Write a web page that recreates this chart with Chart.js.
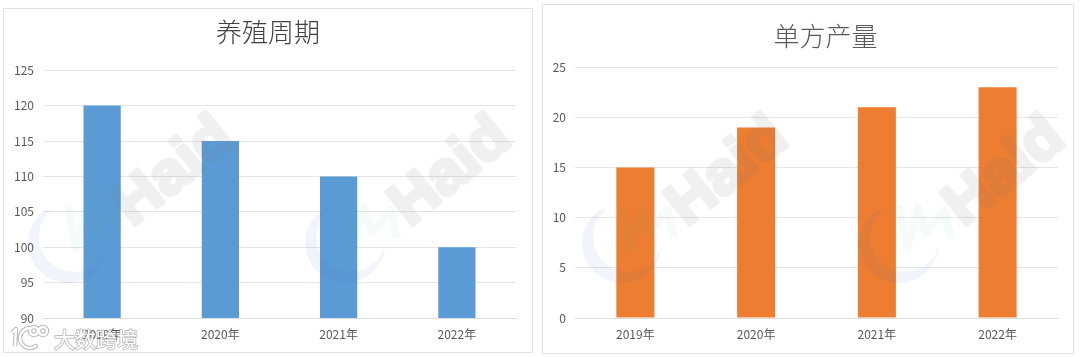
<!DOCTYPE html>
<html>
<head>
<meta charset="utf-8">
<script src="https://cdn.jsdelivr.net/npm/chart.js@4"></script>
<style>
html, body { margin: 0; padding: 0; background: #fff; }
body { width: 1080px; height: 357px; position: relative; overflow: hidden; }
.panel { position: absolute; border: 1px solid #e2e2e2; box-sizing: content-box; }
#leftPanel { left: 3px; top: 8px; width: 528px; height: 343px; }
#rightPanel { left: 542px; top: 4px; width: 530px; height: 348px; }
canvas { display: block; }
</style>
</head>
<body>
<div class="panel" id="leftPanel"><canvas id="cycleChart" width="528" height="343"></canvas></div>
<div class="panel" id="rightPanel"><canvas id="yieldChart" width="530" height="348"></canvas></div>
<script>
var years = ['2019年', '2020年', '2021年', '2022年'];
var cycleDays = [120, 115, 110, 100];
var yieldPerCube = [15, 19, 21, 23];
var watermarkX = [68, 345, 622, 899];

var fontName = '"Noto Sans CJK SC", "Noto Sans", sans-serif';

// heavy Haid word, drawn opaque once so fill and outline do not double up
var haidWord = document.createElement('canvas');
haidWord.width = 200;
haidWord.height = 100;
var hw = haidWord.getContext('2d');
hw.font = 'bold 62px "Liberation Sans", sans-serif';
hw.textAlign = 'center';
hw.textBaseline = 'middle';
hw.fillStyle = '#6e6e6e';
hw.strokeStyle = '#6e6e6e';
hw.lineWidth = 4;
hw.lineJoin = 'round';
hw.fillText('Haid', 100, 50);
hw.strokeText('Haid', 100, 50);

// haid watermark, repeated across the whole picture in page coordinates
var watermark = {
    id: 'watermark',
    afterLayout: function (chart, args, opts) {
        // titles in the reference sit right of the plot centre
        chart.titleBlock.left += opts.titleShift;
        chart.titleBlock.right += opts.titleShift;
    },
    afterDraw: function (chart, args, opts) {
        var c = chart.ctx;
        c.save();
        c.translate(-opts.pageX, -opts.pageY);
        watermarkX.forEach(function (x) {
            var y = 243;
            c.fillStyle = 'rgba(60,95,190,.07)';
            c.beginPath();
            c.arc(x, y, 40, 1.3 * Math.PI, 0, true);
            c.arc(x + 6, y - 6, 35, 0, 1.3 * Math.PI, false);
            c.closePath();
            c.fill();

            c.strokeStyle = 'rgba(70,190,130,.06)';
            c.lineWidth = 8;
            c.lineJoin = 'round';
            c.beginPath();
            c.moveTo(x, y - 38);
            c.lineTo(x + 8, y + 6);
            c.lineTo(x + 19, y - 36);
            c.lineTo(x + 27, y - 10);
            c.lineTo(x + 45, y - 33);
            c.lineTo(x + 52, y - 5);
            c.stroke();

            c.save();
            c.translate(x + 106, y - 71);
            c.rotate(-39 * Math.PI / 180);
            c.globalAlpha = 0.11;
            c.drawImage(haidWord, -100, -50);
            c.restore();
        });
        c.restore();
    }
};

// the white source stamp in the bottom left corner
var stamp = {
    id: 'stamp',
    afterDraw: function (chart) {
        var c = chart.ctx;
        c.save();
        c.translate(-4, -9);
        c.lineJoin = 'round';

        function logoPath() {
            c.beginPath();
            c.moveTo(12, 333);
            c.lineTo(16, 329);
            c.lineTo(15, 346);
            c.moveTo(35, 346);
            c.arc(30, 338, 10, 0.3 * Math.PI, 1.55 * Math.PI);
            c.moveTo(38, 331);
            c.arc(34, 331, 4, 0, 2 * Math.PI);
            c.moveTo(47, 331);
            c.arc(43, 331, 4, 0, 2 * Math.PI);
        }
        c.strokeStyle = 'rgba(120,120,120,.5)';
        c.lineWidth = 4.5;
        logoPath();
        c.stroke();
        c.strokeStyle = '#fff';
        c.lineWidth = 2.4;
        logoPath();
        c.stroke();

        c.font = '21px ' + fontName;
        c.textBaseline = 'middle';
        c.strokeStyle = 'rgba(120,120,120,.45)';
        c.lineWidth = 2;
        c.strokeText('大数跨境', 54, 339);
        c.fillStyle = '#fff';
        c.fillText('大数跨境', 54, 339);
        c.restore();
    }
};

function makeChart(id, title, values, color, yMin, yMax, step, box) {
    return new Chart(document.getElementById(id).getContext('2d'), {
        type: 'bar',
        data: {
            labels: years,
            datasets: [{
                label: title,
                data: values,
                backgroundColor: color,
                categoryPercentage: 1,
                barPercentage: 0.315
            }]
        },
        options: {
            responsive: false,
            animation: false,
            layout: { padding: { right: box.right } },
            plugins: {
                legend: { display: false },
                tooltip: { enabled: false },
                watermark: { pageX: box.pageX, pageY: box.pageY, titleShift: box.titleShift },
                title: {
                    display: true,
                    text: title,
                    color: box.titleColor,
                    font: { family: fontName, size: 26, weight: 300, lineHeight: 1.2 },
                    padding: { top: box.titleTop, bottom: box.titleBottom }
                }
            },
            scales: {
                x: {
                    afterFit: function (s) { s.height = box.bottom; },
                    grid: { display: false },
                    border: { color: '#dedede' },
                    ticks: { color: '#595959', padding: 1, maxRotation: 0, font: { family: fontName, size: 12 } }
                },
                y: {
                    min: yMin,
                    max: yMax,
                    afterFit: function (s) { s.width = box.left; },
                    grid: { color: '#e4e4e4', drawTicks: false },
                    border: { display: false },
                    ticks: { stepSize: step, color: '#595959', padding: 9, font: { family: fontName, size: 12 } }
                }
            }
        },
        plugins: id === 'cycleChart' ? [watermark, stamp] : [watermark]
    });
}

makeChart('cycleChart', '养殖周期', cycleDays, '#5B9BD5', 90, 125, 5,
    { left: 39, right: 16, bottom: 34, titleTop: 8, titleBottom: 22, pageX: 4, pageY: 9, titleShift: 8, titleColor: '#404040' });
makeChart('yieldChart', '单方产量', yieldPerCube, '#ED7D31', 0, 25, 5,
    { left: 32, right: 15, bottom: 35, titleTop: 16, titleBottom: 15, pageX: 543, pageY: 5, titleShift: 25, titleColor: '#595959' });
</script>
</body>
</html>
